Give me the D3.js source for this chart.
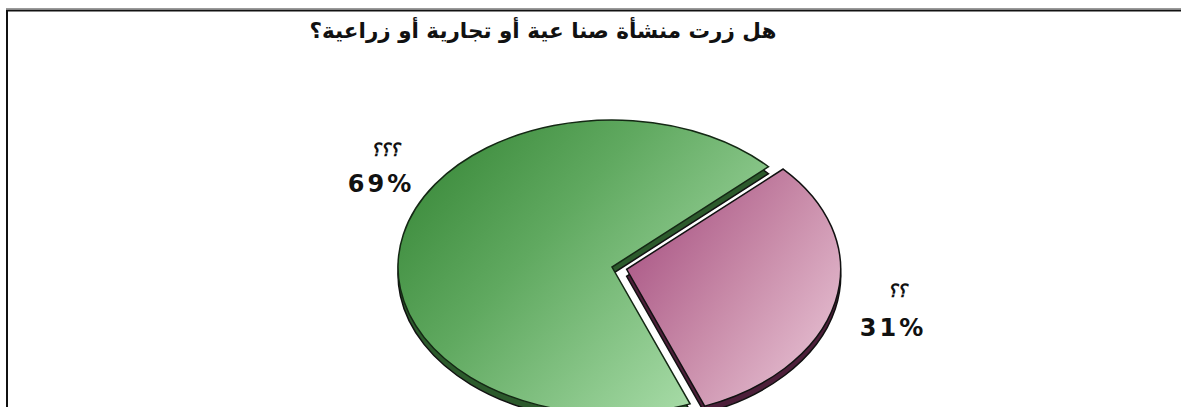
<!DOCTYPE html>
<html lang="ar">
<head>
<meta charset="utf-8">
<script src="https://cdn.jsdelivr.net/npm/d3@7"></script>
<style>
  html, body { margin: 0; padding: 0; background: #fff; }
  svg { display: block; }
</style>
</head>
<body>
<svg id="chart" width="1181" height="407"></svg>
<script>
// Survey answers: share of respondents per answer
const categories = ["؟؟", "؟؟؟"];
const values = [31, 69];
const valueLabels = ["31%", "69%"];
const title = "هل  زرت منشأة صنا عية أو تجارية أو زراعية؟";

const W = 1181, H = 407;
const svg = d3.select("#chart");

// frame (top and left edges; the rest runs off the page)
svg.append("line").attr("x1", 6).attr("x2", W).attr("y1", 8.5).attr("y2", 8.5)
  .attr("stroke", "#9a9a9a").attr("stroke-width", 1);
svg.append("path").attr("d", `M7,${H} V10.5 H${W}`)
  .attr("fill", "none").attr("stroke", "#111").attr("stroke-width", 2);

// title
svg.append("text")
  .attr("x", 543).attr("y", 38)
  .attr("text-anchor", "middle")
  .attr("direction", "rtl")
  .attr("font-family", "DejaVu Sans, sans-serif")
  .attr("font-weight", "bold")
  .attr("font-size", 21.5)
  .attr("fill", "#111")
  .text(title);

// gradients
const defs = svg.append("defs");
const grads = [
  { id: "gPink", stops: [["0%", "#a0467a"], ["55%", "#c88aa8"], ["100%", "#e6c0d2"]], x2: 1, y2: 0.8 },
  { id: "gGreen", stops: [["0%", "#318231"], ["45%", "#60a960"], ["100%", "#a8dca8"]], x2: 1, y2: 0.7 }
];
grads.forEach(g => {
  const lg = defs.append("linearGradient").attr("id", g.id)
    .attr("x1", 0).attr("y1", 0).attr("x2", g.x2).attr("y2", g.y2);
  g.stops.forEach(s => lg.append("stop").attr("offset", s[0]).attr("stop-color", s[1]));
});

// pie geometry: tilted disc drawn as an ellipse
const cx = 612, cy = 267, rx = 214, ry = 147, depth = 7, explode = 15;
const deg = Math.PI / 180;
const start = 47 * deg;

const pie = d3.pie().sort(null).value(d => d).startAngle(start).endAngle(start + 2 * Math.PI);
const arcs = pie(values);
const arc = d3.arc().innerRadius(0).outerRadius(rx);

const fills = ["url(#gPink)", "url(#gGreen)"];
const sides = ["#4d1f3a", "#2c5a2c"];
const strokes = ["#111", "#142814"];
const exploded = [true, false];

function offsetOf(a, i) {
  if (!exploded[i]) return [0, 0];
  const m = (a.startAngle + a.endAngle) / 2;
  return [explode * Math.sin(m), -explode * Math.cos(m) * ry / rx];
}

// side walls first, then top faces
[1, 0].forEach(i => {
  const a = arcs[i], [dx, dy] = offsetOf(a, i);
  svg.append("path")
    .attr("transform", `translate(${cx + dx},${cy + dy + depth}) scale(1,${ry / rx})`)
    .attr("d", arc(a))
    .attr("fill", sides[i])
    .attr("stroke", "#111")
    .attr("stroke-width", 1.5)
    .attr("vector-effect", "non-scaling-stroke");
});
[1, 0].forEach(i => {
  const a = arcs[i], [dx, dy] = offsetOf(a, i);
  svg.append("path")
    .attr("transform", `translate(${cx + dx},${cy + dy}) scale(1,${ry / rx})`)
    .attr("d", arc(a))
    .attr("fill", fills[i])
    .attr("stroke", strokes[i])
    .attr("stroke-width", 1.5)
    .attr("vector-effect", "non-scaling-stroke");
});

// labels: answer above, percentage below
const labelPos = [[897, 297, 336], [385, 156, 192]];
arcs.forEach((a, i) => {
  const [lx, ly1, ly2] = labelPos[i];
  svg.append("text")
    .attr("x", lx).attr("y", ly1)
    .attr("text-anchor", "middle")
    .attr("font-family", "DejaVu Sans, sans-serif")
    .attr("font-weight", "bold")
    .attr("font-style", "italic")
    .attr("font-size", 18)
    .attr("letter-spacing", 3)
    .attr("fill", "#111")
    .text(categories[i]);
  svg.append("text")
    .attr("x", lx - 4).attr("y", ly2)
    .attr("text-anchor", "middle")
    .attr("font-family", "DejaVu Sans, sans-serif")
    .attr("font-weight", "bold")
    .attr("font-size", 24)
    .attr("letter-spacing", 3)
    .attr("fill", "#111")
    .text(valueLabels[i]);
});
</script>
</body>
</html>
